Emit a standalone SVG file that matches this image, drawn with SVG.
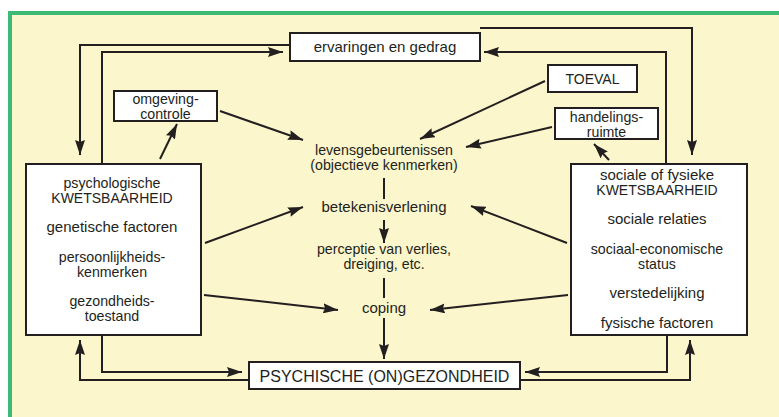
<svg xmlns="http://www.w3.org/2000/svg" width="779" height="417" viewBox="0 0 779 417">
<style>
.box{fill:#fff;stroke:#231f20;stroke-width:2}
.c{fill:none;stroke:#231f20;stroke-width:2}
text{font-family:"Liberation Sans",Arial,sans-serif;font-size:15px;fill:#231f20;text-anchor:middle}
.t{font-size:14.2px}
.caps{font-size:14px}
.big{font-size:16px}
</style>
<defs>
<marker id="ah" markerUnits="userSpaceOnUse" markerWidth="15" markerHeight="10" refX="15" refY="5" orient="auto">
<path d="M0,0 L15,5 L0,10 L2,5 z" fill="#231f20"/>
</marker>
</defs>
<rect x="0" y="0" width="779" height="417" fill="#fff"/>
<rect x="10" y="13" width="800" height="420" fill="#fbf6cb" stroke="#3dba75" stroke-width="4"/>

<g id="connectors">
<polyline class="c" points="290,45 80,45 80,155" marker-end="url(#ah)"/>
<polyline class="c" points="102,164 102,52 283,52" marker-end="url(#ah)"/>
<polyline class="c" points="480,28 692,28 692,155" marker-end="url(#ah)"/>
<polyline class="c" points="666,164 666,52 484,52" marker-end="url(#ah)"/>
<line class="c" x1="160" y1="159" x2="177" y2="124" marker-end="url(#ah)"/>
<line class="c" x1="220" y1="111" x2="303" y2="140" marker-end="url(#ah)"/>
<line class="c" x1="545" y1="81" x2="420" y2="139" marker-end="url(#ah)"/>
<line class="c" x1="552" y1="127" x2="466" y2="147" marker-end="url(#ah)"/>
<line class="c" x1="609" y1="160" x2="594" y2="144" marker-end="url(#ah)"/>
<line class="c" x1="384" y1="178" x2="384" y2="199"/>
<line class="c" x1="384" y1="220" x2="384" y2="243" marker-end="url(#ah)"/>
<line class="c" x1="384" y1="278" x2="384" y2="298"/>
<line class="c" x1="384" y1="318" x2="384" y2="359" marker-end="url(#ah)"/>
<line class="c" x1="205" y1="243" x2="303" y2="207" marker-end="url(#ah)"/>
<line class="c" x1="204" y1="295" x2="338" y2="310" marker-end="url(#ah)"/>
<line class="c" x1="567" y1="243" x2="471" y2="206" marker-end="url(#ah)"/>
<line class="c" x1="568" y1="295" x2="430" y2="310" marker-end="url(#ah)"/>
<polyline class="c" points="102,335 102,372 242,372" marker-end="url(#ah)"/>
<polyline class="c" points="249,380 80,380 80,340" marker-end="url(#ah)"/>
<polyline class="c" points="667,335 667,372 525,372" marker-end="url(#ah)"/>
<polyline class="c" points="520,380 690,380 690,340" marker-end="url(#ah)"/>
</g>

<g id="ervaringen">
<rect class="box" x="290" y="33" width="190" height="28"/>
<text x="385" y="52">ervaringen en gedrag</text>
</g>
<g id="omgeving">
<rect class="box" x="114" y="91" width="103" height="30"/>
<text class="t" x="165.5" y="103.5">omgeving-</text>
<text class="t" x="165.5" y="118.5">controle</text>
</g>
<g id="toeval">
<rect class="box" x="548" y="65" width="89" height="27"/>
<text class="caps" x="592.5" y="84">TOEVAL</text>
</g>
<g id="handelingsruimte">
<rect class="box" x="555" y="108" width="103" height="31"/>
<text class="t" x="606.5" y="121.5">handelings-</text>
<text class="t" x="606.5" y="136.5">ruimte</text>
</g>
<g id="psychologische">
<rect class="box" x="26" y="164" width="175" height="171"/>
<text class="t" x="112" y="187.5">psychologische</text>
<text class="caps" x="112" y="202.5">KWETSBAARHEID</text>
<text x="112" y="232">genetische factoren</text>
<text class="t" x="112" y="261.5">persoonlijkheids-</text>
<text class="t" x="112" y="276.5">kenmerken</text>
<text class="t" x="112" y="305.5">gezondheids-</text>
<text class="t" x="112" y="320.5">toestand</text>
</g>
<g id="sociale">
<rect class="box" x="571" y="164" width="176" height="171"/>
<text x="657" y="180">sociale of fysieke</text>
<text class="caps" x="657" y="195">KWETSBAARHEID</text>
<text x="657" y="224">sociale relaties</text>
<text class="t" x="657" y="253.5">sociaal-economische</text>
<text class="t" x="657" y="268.5">status</text>
<text x="657" y="298">verstedelijking</text>
<text x="657" y="328">fysische factoren</text>
</g>
<g id="levensgebeurtenissen">
<text class="t" x="384" y="154.5">levensgebeurtenissen</text>
<text class="t" x="384" y="170">(objectieve kenmerken)</text>
</g>
<g id="betekenisverlening">
<text x="384" y="212">betekenisverlening</text>
</g>
<g id="perceptie">
<text class="t" x="384" y="253.5">perceptie van verlies,</text>
<text class="t" x="384" y="269">dreiging, etc.</text>
</g>
<g id="coping">
<text x="384" y="313">coping</text>
</g>
<g id="psychische">
<rect class="box" x="249" y="362" width="271" height="27"/>
<text class="big" x="384.5" y="382">PSYCHISCHE (ON)GEZONDHEID</text>
</g>
</svg>
